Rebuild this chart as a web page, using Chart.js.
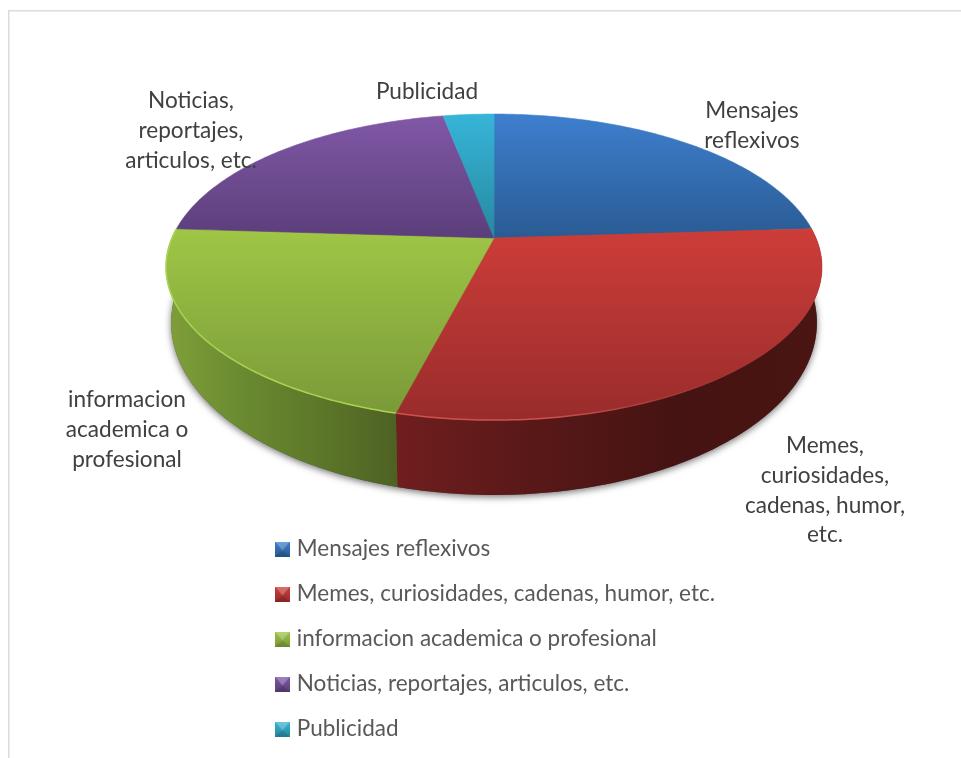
<!DOCTYPE html>
<html>
<head>
<meta charset="utf-8">
<script src="https://cdn.jsdelivr.net/npm/chart.js@4"></script>
<style>
  html, body { margin: 0; background: #fff; overflow: hidden; }
  canvas { display: block; }
</style>
</head>
<body>
<canvas id="pie3d" width="961" height="758"></canvas>
<script>
const categories = [
  "Mensajes reflexivos",
  "Memes, curiosidades, cadenas, humor, etc.",
  "informacion academica o profesional",
  "Noticias, reportajes, articulos, etc.",
  "Publicidad"
];
const shares = [24, 30, 22, 21, 3];

// labels next to the pie, wrapped
const labelLines = [
  ["Mensajes", "reflexivos"],
  ["Memes,", "curiosidades,", "cadenas, humor,", "etc."],
  ["informacion", "academica o", "profesional"],
  ["Noticias,", "reportajes,", "articulos, etc."],
  ["Publicidad"]
];

const faceTop    = ["#3e7fce", "#cd3d39", "#9fc646", "#8058a7", "#36b5d8"];
const faceBottom = ["#2a5b93", "#982c2b", "#7a9a38", "#5c3e7b", "#27889f"];
const rimColors  = [null, "rgba(214, 84, 82, 0.9)", "#a9d352", null, null];
const wallStops  = [
  null,
  ["#701e1e", "#581818", "#451312", "#4a1512"],
  ["#809f3a", "#6a8a30", "#5c7729", "#4e6123"],
  null,
  null
];

const labelAnchors = [[752, 111], [825, 446], [127, 400], [191, 101], [427, 92]];
const labelLeading = 29.7;

// the disc is seen in perspective: TILT shifts the pie centre above the ellipse centre
const TILT = 0.19;
const CENTER_X = 494;
const TOP_PLANE = { a: 322, b: 147.5, y: 238 };
const BOTTOM_PLANE = { a: 317, b: 166, y: 290 };

const FONT = "Lato";
const LABEL_SIZE = 22.6;
const LEGEND_SIZE = 22.5;

const project = (plane, angle) => {
  const d = 1 - TILT * Math.sin(angle);
  return [CENTER_X + plane.a * Math.cos(angle) / d, plane.y + plane.b * Math.sin(angle) / d];
};

const sampleArc = (plane, from, to) => {
  const steps = Math.max(2, Math.ceil(Math.abs(to - from) * 60));
  const pts = [];
  for (let i = 0; i <= steps; i++) {
    pts.push(project(plane, from + (to - from) * i / steps));
  }
  return pts;
};

//========================================================================
const drawShadow = ctx => {
  ctx.save();
  ctx.shadowColor = "rgba(0, 0, 0, 0.55)";
  ctx.shadowBlur = 7;
  ctx.shadowOffsetY = 2;
  ctx.fillStyle = "#555";
  ctx.beginPath();
  sampleArc(BOTTOM_PLANE, 0, Math.PI * 2).forEach(p => ctx.lineTo(p[0], p[1]));
  ctx.closePath();
  ctx.fill();
  ctx.restore();
};

//========================================================================
const drawWall = (ctx, arc, i) => {
  const stops = wallStops[i];
  if (!stops) {
    return;
  }
  const top = sampleArc(TOP_PLANE, arc.startAngle, arc.endAngle);
  const bottom = sampleArc(BOTTOM_PLANE, arc.endAngle, arc.startAngle);
  const xs = top.concat(bottom).map(p => p[0]);
  const grad = ctx.createLinearGradient(Math.min(...xs), 0, Math.max(...xs), 0);
  stops.forEach((c, j) => grad.addColorStop(j / (stops.length - 1), c));

  ctx.beginPath();
  top.concat(bottom).forEach(p => ctx.lineTo(p[0], p[1]));
  ctx.closePath();
  ctx.fillStyle = grad;
  ctx.fill();
};

//========================================================================
const drawFace = (ctx, arc, i) => {
  const rim = sampleArc(TOP_PLANE, arc.startAngle, arc.endAngle);
  const ys = rim.map(p => p[1]).concat(TOP_PLANE.y);
  const grad = ctx.createLinearGradient(0, Math.min(...ys), 0, Math.max(...ys));
  grad.addColorStop(0, faceTop[i]);
  grad.addColorStop(1, faceBottom[i]);

  ctx.beginPath();
  ctx.moveTo(CENTER_X, TOP_PLANE.y);
  rim.forEach(p => ctx.lineTo(p[0], p[1]));
  ctx.closePath();
  ctx.fillStyle = grad;
  ctx.strokeStyle = grad;
  ctx.lineWidth = 0.6;
  ctx.fill();
  ctx.stroke();
};

//========================================================================
// light edge along the front of the disc, fading out on the dark right side
const drawRim = (ctx, arc, i) => {
  if (!rimColors[i]) {
    return;
  }
  const pts = sampleArc(TOP_PLANE, arc.startAngle, arc.endAngle);
  const xs = pts.map(p => p[0]);
  const grad = ctx.createLinearGradient(Math.min(...xs), 0, Math.max(...xs), 0);
  grad.addColorStop(0, rimColors[i]);
  grad.addColorStop(0.35, rimColors[i]);
  grad.addColorStop(i === 1 ? 0.8 : 1, i === 1 ? "rgba(214, 84, 82, 0)" : rimColors[i]);
  if (i === 1) {
    grad.addColorStop(1, "rgba(214, 84, 82, 0)");
  }

  ctx.beginPath();
  pts.forEach(p => ctx.lineTo(p[0], p[1]));
  ctx.strokeStyle = grad;
  ctx.lineWidth = 1.5;
  ctx.stroke();
};

//========================================================================
const drawLabels = ctx => {
  ctx.font = `${LABEL_SIZE}px ${FONT}`;
  ctx.fillStyle = "#404040";
  ctx.textAlign = "center";
  ctx.textBaseline = "middle";
  labelLines.forEach((lines, i) => {
    lines.forEach((line, j) => {
      ctx.fillText(line, labelAnchors[i][0], labelAnchors[i][1] + j * labelLeading);
    });
  });
};

//========================================================================
// little bevelled square used as legend key
const makeKey = i => {
  const s = 15;
  const c = document.createElement("canvas");
  c.width = s;
  c.height = s;
  const g = c.getContext("2d");
  const grad = g.createLinearGradient(0, 0, 0, s);
  grad.addColorStop(0, faceTop[i]);
  grad.addColorStop(1, faceBottom[i]);
  g.fillStyle = grad;
  g.fillRect(0, 0, s, s);
  g.fillStyle = "rgba(255, 255, 255, 0.25)";
  g.beginPath();
  g.moveTo(0, 0);
  g.lineTo(s, 0);
  g.lineTo(s / 2, s * 0.6);
  g.closePath();
  g.fill();
  g.fillStyle = "rgba(0, 0, 0, 0.12)";
  g.beginPath();
  g.moveTo(0, s);
  g.lineTo(s, s);
  g.lineTo(s / 2, s * 0.6);
  g.closePath();
  g.fill();
  return c;
};

const LEGEND_ROW = 45;

const pie3d = {
  id: "pie3d",

  // put the legend column below the pie
  afterLayout: chart => {
    const legend = chart.legend;
    const pad = LEGEND_ROW - LEGEND_SIZE;
    legend.left = 279.5 - pad;
    legend.right = legend.left + 640;
    legend.top = 549 - pad - LEGEND_SIZE / 2;
    legend.bottom = legend.top + 300;
    legend.adjustHitBoxes();
  },

  beforeDraw: chart => {
    const ctx = chart.ctx;
    ctx.save();
    ctx.fillStyle = "#fff";
    ctx.fillRect(0, 0, chart.width, chart.height);
    ctx.fillStyle = "#dcdcdc";
    ctx.fillRect(8, 10, chart.width - 8, 1.5);
    ctx.fillRect(8, 10, 1.5, chart.height - 10);
    ctx.restore();
  },

  // the arcs get their angles from the pie controller and are drawn here as a raised disc
  beforeDatasetDraw: (chart, args) => {
    const ctx = chart.ctx;
    const arcs = args.meta.data;
    ctx.save();
    drawShadow(ctx);
    arcs.forEach((arc, i) => drawWall(ctx, arc, i));
    arcs.forEach((arc, i) => drawFace(ctx, arc, i));
    arcs.forEach((arc, i) => drawRim(ctx, arc, i));
    drawLabels(ctx);
    ctx.restore();
    return false;
  }
};

const keys = categories.map((_, i) => makeKey(i));

new Chart(document.getElementById("pie3d"), {
  type: "pie",
  data: {
    labels: categories,
    datasets: [{ data: shares, backgroundColor: faceTop, borderWidth: 0 }]
  },
  options: {
    responsive: false,
    animation: false,
    plugins: {
      tooltip: { enabled: false },
      legend: {
        position: "left",
        align: "start",
        labels: {
          usePointStyle: true,
          boxWidth: 15,
          pointStyleWidth: 6,
          padding: LEGEND_ROW - LEGEND_SIZE,
          font: { family: FONT, size: LEGEND_SIZE },
          generateLabels: chart => chart.data.labels.map((text, i) => ({
            text,
            index: i,
            pointStyle: keys[i],
            fillStyle: faceTop[i],
            fontColor: "#595959",
            lineWidth: 0,
            hidden: false
          }))
        }
      }
    }
  },
  plugins: [pie3d]
});
</script>
</body>
</html>
